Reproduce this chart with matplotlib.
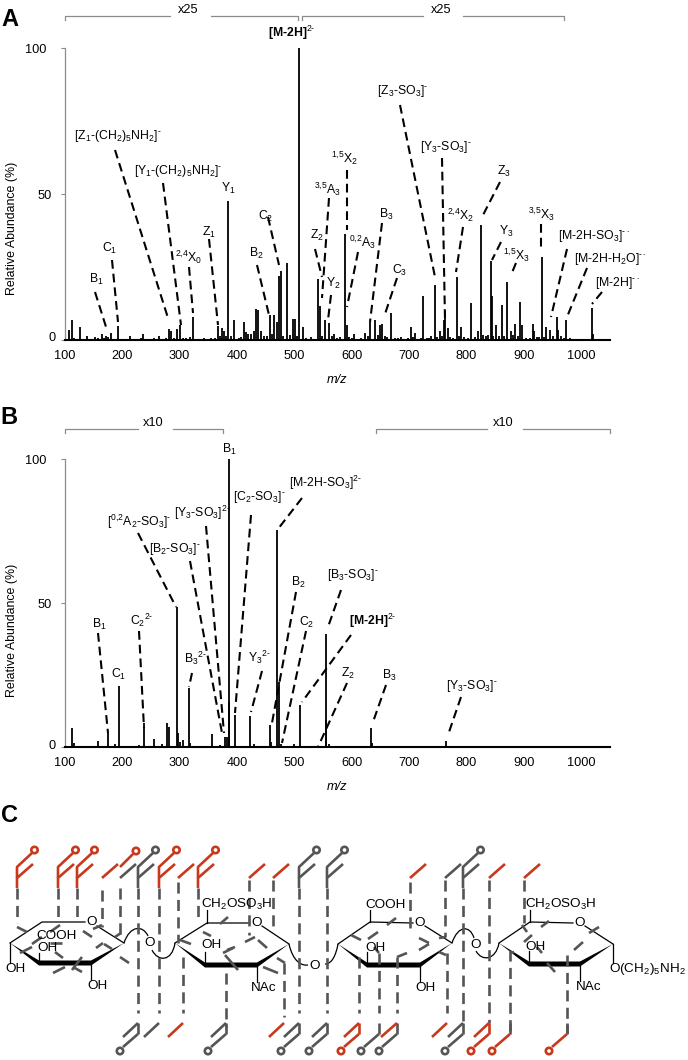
import matplotlib
matplotlib.use("Agg")
import matplotlib.pyplot as plt
from matplotlib.path import Path
from matplotlib.patches import PathPatch, Polygon, Circle
from matplotlib.transforms import ScaledTranslation

plt.rcParams['font.family'] = ['Liberation Sans', 'DejaVu Sans']
plt.rcParams['mathtext.fontset'] = 'custom'
plt.rcParams['mathtext.rm'] = 'Liberation Sans'
plt.rcParams['mathtext.it'] = 'Liberation Sans:italic'
plt.rcParams['mathtext.bf'] = 'Liberation Sans:bold'
plt.rcParams['mathtext.default'] = 'regular'

# ---------------- Spectrum A ----------------
mz_a = [107, 112, 127, 138, 152, 165, 172, 180, 192, 213, 237, 255, 265, 281, 285, 295, 300, 324,
        342, 355, 367, 374, 378, 385, 395, 412, 416, 420, 429, 433, 437, 442, 457, 465, 469, 473,
        476, 487, 498, 501, 509, 515, 529, 542, 545, 553, 560, 570, 580, 588, 592, 604, 623, 632,
        640, 650, 652, 668, 686, 703, 711, 725, 739, 745, 753, 760, 763, 767, 783, 791, 808, 820,
        825, 834, 842, 844, 851, 861, 871, 877, 885, 893, 896, 915, 918, 931, 938, 946, 957, 960,
        974, 990, 1018, 1021]
int_a = [3.5, 7, 4.6, 1.5, 1, 2, 1.5, 2.5, 4.8, 1.5, 2, 0.8, 1.5, 3.7, 3, 3.7, 5, 7.8,
         0.7, 0.8, 4.7, 4.2, 3, 47.5, 6.7, 6.2, 2.7, 2, 3, 10.5, 10.3, 3, 8.5, 8.5, 6, 22,
         23.5, 26.5, 7.3, 7.3, 100, 4.5, 1, 21, 11.5, 7, 5.7, 2, 1, 36.5, 5, 2, 2.5, 6,
         7, 5, 5.5, 9.4, 1, 4.5, 2.3, 15, 1.5, 19, 3, 7, 10, 4, 21.7, 4.5, 12.6, 3,
         39.4, 1.2, 27, 15, 5, 12, 20, 3, 5.6, 13, 5, 5.5, 3, 28.5, 4.5, 3.5, 8, 3.5,
         7, 0.4, 11, 2]
# low level peaks between the main ones
mz_a_low = [103, 116, 121, 133, 145, 158, 169, 176, 186, 198, 205, 219, 226, 233, 241, 248, 259, 271,
            276, 290, 306, 312, 318, 330, 336, 349, 361, 371, 381, 390, 404, 408, 425, 447, 452, 461,
            481, 492, 505, 520, 535, 549, 565, 575, 596, 600, 610, 616, 628, 645, 658, 662, 675, 681,
            693, 698, 707, 717, 721, 731, 735, 749, 757, 772, 777, 787, 796, 802, 814, 829, 838, 847,
            856, 866, 881, 889, 904, 910, 922, 926, 935, 950, 965, 969, 980, 1000, 1010, 1028, 1040]
int_a_low = [0.5, 0.6, 0.4, 0.5, 0.4, 0.6, 0.8, 1, 0.5, 0.3, 0.4, 0.5, 0.3, 0.7, 0.5, 0.3, 0.4, 0.5,
             0.6, 0.7, 0.8, 0.6, 1, 0.5, 0.4, 0.3, 0.6, 1.2, 1.5, 1.3, 0.7, 0.9, 2, 1.5, 1.4, 2,
             1.3, 1.7, 1.5, 0.6, 0.5, 1.2, 1.4, 0.8, 1, 0.7, 0.4, 0.6, 1.2, 1.6, 1.3, 0.9, 0.6, 0.7,
             0.5, 0.6, 0.9, 0.5, 0.6, 0.7, 0.8, 1, 1.4, 1.1, 0.8, 1.2, 0.9, 0.7, 1, 1.6, 1.8, 1.3,
             1.5, 1.4, 1.7, 1.2, 0.8, 0.7, 1, 0.9, 1.1, 1.3, 1.2, 0.8, 0.6, 0.3, 0.3, 0.2, 0.2]

# ---------------- Spectrum B ----------------
mz_b = [113, 117, 138, 158, 175, 188, 194, 217, 229, 238, 256, 269, 278, 282, 295, 298, 301, 306,
        316, 319, 357, 371, 380, 383, 385.5, 387, 397, 422, 430, 458, 460, 470, 473, 477, 500, 510,
        555, 556, 560, 633.5, 636, 682, 764, 842, 922]
int_b = [6.6, 1.5, 0.5, 2.3, 4.9, 1, 21.3, 0.5, 0.8, 8.3, 2.8, 1, 8.5, 7.2, 48.8, 5, 2, 2.5,
         20.5, 1.5, 4.6, 0.7, 3.5, 3.5, 100, 15.8, 11.2, 10.9, 1, 7.7, 2, 75.4, 22.8, 1, 1, 14.7,
         39.2, 9.5, 1, 6.6, 1.5, 0.3, 2.3, 0.3, 0.3]

y_ticks = [0, 50, 100]
x_ticks = [100, 200, 300, 400, 500, 600, 700, 800, 900, 1000]

# ---------------- Peak labels, positions in picture pixels ----------------
labels_a = [r'[Z$_1$-(CH$_2$)$_5$NH$_2$]$^{\text{-}}$', r'[Y$_1$-(CH$_2$)$_5$NH$_2$]$^{\text{-}}$', r'Y$_1$', r'C$_2$', r'Z$_2$',
            r'$^{\text{3,5}}$A$_3$', r'Y$_2$', r'B$_2$', r'Z$_1$', r'$^{\text{2,4}}$X$_0$', r'C$_1$', r'B$_1$',
            r'$^{\text{1,5}}$X$_2$', r'[Z$_3$-SO$_3$]$^{\text{-}}$', r'[Y$_3$-SO$_3$]$^{\text{-}}$', r'Z$_3$', r'$^{\text{2,4}}$X$_2$', r'B$_3$',
            r'$^{\text{0,2}}$A$_3$', r'C$_3$', r'Y$_3$', r'$^{\text{1,5}}$X$_3$', r'$^{\text{3,5}}$X$_3$',
            r'[M-2H-SO$_3$]$^{\text{-}\bullet}$', r'[M-2H-H$_2$O]$^{\text{-}\bullet}$', r'[M-2H]$^{\text{-}\bullet}$']
label_pos_a = [(118, 136), (178, 171), (228, 188), (266, 216), (317, 235), (327, 189), (333, 283), (256, 253),
               (209, 232), (189, 257), (110, 248), (96, 279), (345, 158), (403, 91), (446, 147), (504, 171),
               (461, 215), (386, 214), (362, 242), (400, 270), (506, 231), (516, 255), (541, 214),
               (594, 236), (610, 259), (617, 283)]
leaders_a = [(115, 150, 168, 318), (163, 183, 181, 325), (268, 217, 279, 265), (315, 249, 322, 277),
             (329, 198, 322, 298), (331, 295, 328, 320), (257, 265, 269, 315), (209, 239, 218, 325),
             (189, 267, 193, 313), (112, 260, 118, 322), (95, 292, 107, 330), (347, 170, 347, 230),
             (400, 105, 435, 277), (442, 158, 445, 320), (500, 182, 482, 217), (463, 227, 456, 272),
             (382, 223, 370, 322), (358, 252, 347, 307), (397, 278, 384, 317), (501, 242, 492, 260),
             (516, 263, 511, 275), (541, 224, 541, 248), (567, 249, 551, 317), (587, 268, 567, 317),
             (602, 292, 592, 304)]

labels_b = [r'B$_1$', r'[M-2H-SO$_3$]$^{\text{2-}}$', r'[C$_2$-SO$_3$]$^{\text{-}}$', r'[Y$_3$-SO$_3$]$^{\text{2-}}$',
            r'[$^{\text{0,2}}$A$_2$-SO$_3$]$^{\text{-}}$', r'[B$_2$-SO$_3$]$^{\text{-}}$', r'B$_2$', r'[B$_3$-SO$_3$]$^{\text{-}}$', r'C$_2$',
            r'B$_1$', r'C$_2$$^{\text{2-}}$', r'C$_1$', r'B$_3$$^{\text{2-}}$', r'Y$_3$$^{\text{2-}}$', r'Z$_2$', r'B$_3$',
            r'[Y$_3$-SO$_3$]$^{\text{-}}$']
label_pos_b = [(229, 449), (326, 483), (259, 497), (202, 513), (139, 522), (175, 549), (298, 582), (353, 575),
               (307, 622), (99, 624), (142, 620), (119, 674), (195, 658), (259, 657), (348, 673), (389, 675),
               (472, 686)]
leaders_b = [(302, 498, 278, 529), (251, 515, 235, 713), (206, 526, 224, 733), (138, 533, 176, 607),
             (190, 561, 222, 733), (296, 592, 272, 723), (341, 590, 328, 627), (306, 631, 282, 743),
             (351, 635, 302, 702), (98, 633, 108, 733), (139, 631, 144, 728), (192, 673, 189, 687),
             (262, 671, 251, 712), (347, 683, 318, 747), (386, 685, 373, 722), (461, 697, 448, 735)]

# scale brackets: x0, gap start, gap end, x1, height, text
brackets = [(65, 170, 211, 297.5, 16, 'x25'), (302, 423, 463, 564, 16, 'x25'),
            (65, 138, 173, 222.7, 429, 'x10'), (376, 487, 523, 610, 429, 'x10')]

# ---------------- Panel C, glycan structure, picture pixels ----------------
rings = [[(10, 943), (42, 922), (85, 922), (97, 926), (124, 943), (91, 963), (39, 963)],
         [(175, 943), (207, 923), (250, 923), (262, 926), (289, 944), (257, 965), (205, 965)],
         [(338, 944), (370, 922), (413, 923), (425, 926), (452, 943), (420, 965), (367, 965)],
         [(499, 943), (530, 922), (573, 923), (585, 926), (613, 944), (580, 964), (529, 964)]]
ring_o = [(92, 922), (257, 923), (420, 923), (580, 923)]
links = [[(124, 943), (130, 925), (143, 925), (148, 936)], [(152, 950), (158, 962), (172, 962), (175, 943)],
         [(289, 944), (293, 962), (302, 966), (308, 965)], [(325, 964), (332, 964), (336, 955), (338, 944)],
         [(452, 943), (458, 925), (470, 925), (474, 938)], [(476, 951), (482, 962), (496, 960), (499, 943)]]
link_o = [(150, 943), (315, 966), (476, 945)]
bonds = [(10, 943, 10, 963), (91, 963, 91, 980), (39, 963, 39, 953), (207, 923, 207, 910), (205, 965, 205, 952),
         (257, 965, 257, 982), (370, 922, 370, 910), (367, 965, 367, 952), (420, 965, 420, 982),
         (530, 922, 530, 910), (529, 964, 529, 951), (580, 964, 580, 981), (613, 944, 613, 963)]
chem_text = [(15, 969, 'OH'), (57, 936, 'COOH'), (47, 948, 'OH'), (97, 986, 'OH'),
             (237, 904, r'CH$_2$OSO$_3$H'), (212, 945, 'OH'), (264, 988, 'NAc'),
             (386, 905, 'COOH'), (375, 948, 'OH'), (425, 988, 'OH'),
             (561, 904, r'CH$_2$OSO$_3$H'), (536, 947, 'OH'), (589, 987, 'NAc'),
             (647, 969, r'O(CH$_2$)$_5$NH$_2$')]

top_x = [17, 58, 77, 102, 120, 138, 159, 178, 198, 249, 273, 299, 327, 410, 445, 463, 489, 524]
top_kind = ['D', 'D', 'D', 'S', 'SA', 'D', 'D', 'S', 'D', 'S', 'S', 'D', 'D', 'S', 'S', 'D', 'S', 'S']
top_col = ['r', 'r', 'r', 'r', 'g', 'g', 'r', 'r', 'r', 'r', 'r', 'g', 'g', 'r', 'g', 'g', 'r', 'r']
bot_x = [138, 159, 183, 226, 284, 299, 327, 359, 379, 397, 447, 463, 489, 510, 567]
bot_kind = ['D', 'S', 'S', 'D', 'S', 'D', 'D', 'D', 'H', 'HS', 'S', 'D', 'D', 'H', 'H']
bot_col = ['g', 'g', 'r', 'g', 'r', 'g', 'g', 'r', 'g', 'g', 'r', 'g', 'r', 'r', 'r']
dash_cols = [(17, 888, 923), (58, 888, 922), (77, 888, 922), (102, 890, 927), (120, 888, 935), (138, 888, 1013),
             (159, 888, 1013), (178, 882, 943), (183, 957, 1013), (198, 888, 922), (226, 973, 1027), (249, 880, 935),
             (273, 880, 930), (284, 963, 1017), (299, 888, 1013), (327, 888, 1013), (359, 957, 1013), (379, 953, 1013),
             (397, 957, 1013), (410, 882, 930), (445, 880, 937), (447, 953, 1013), (463, 888, 1023), (489, 880, 1023),
             (524, 880, 923), (510, 950, 1033), (567, 955, 1033)]
cuts = [(17, 927, 27, 932), (50, 932, 60, 925), (83, 931, 92, 937), (93, 929, 102, 925), (115, 937, 121, 933),
        (32, 944, 42, 937), (50, 943, 62, 943), (96, 948, 103, 943), (104, 944, 112, 949), (55, 952, 63, 958),
        (72, 970, 82, 957), (53, 973, 65, 967), (73, 967, 82, 972), (120, 957, 129, 963), (20, 953, 32, 947),
        (220, 924, 228, 917), (203, 932, 211, 936), (180, 940, 191, 944), (245, 942, 255, 937), (258, 940, 267, 948),
        (227, 950, 235, 947), (223, 953, 233, 948), (225, 955, 238, 970), (263, 967, 278, 973), (277, 958, 285, 963),
        (387, 925, 396, 918), (351, 935, 361, 940), (368, 939, 378, 932), (419, 938, 429, 943), (419, 950, 429, 944),
        (397, 957, 407, 953), (439, 938, 446, 937), (439, 952, 446, 955), (374, 947, 379, 953),
        (541, 927, 549, 921), (522, 925, 527, 932), (524, 942, 532, 935), (537, 947, 542, 953), (574, 950, 583, 942),
        (589, 933, 599, 927), (547, 963, 555, 972), (510, 953, 514, 952)]

RED = '#c8381c'
GRAY = '#555555'
BRACKET = '#8c8c8c'
W, H = 688, 1060
FS = 9.2


def px_axes(fig, left, top, right, bottom):
    return fig.add_axes([left / W, 1 - bottom / H, (right - left) / W, (bottom - top) / H])


def spectrum(ax, mz, inten, mz_low=None, int_low=None):
    ax.vlines(mz, 0, inten, color='black', lw=1.3)
    if mz_low is not None:
        ax.vlines(mz_low, 0, int_low, color='black', lw=1.3)
    ax.set_xlim(100, 1050)
    ax.set_ylim(0, 100)
    ax.set_xticks(x_ticks)
    ax.set_yticks(y_ticks)
    ax.tick_params(axis='x', length=0, pad=7, labelsize=FS)
    ax.tick_params(axis='y', length=3, color=BRACKET, pad=10, labelsize=FS)
    # the 0 and 50 labels sit a little closer to the axis than 100
    for lab, shift in zip(ax.get_yticklabels(), [9, 5, 0]):
        lab.set_transform(lab.get_transform() + ScaledTranslation(shift / 100, 3 / 100 if shift == 9 else 0, fig.dpi_scale_trans))
    for side in ['top', 'right']:
        ax.spines[side].set_visible(False)
    ax.spines['left'].set_color(BRACKET)
    ax.spines['left'].set_linewidth(0.9)
    ax.spines['bottom'].set_linewidth(1.5)
    ax.patch.set_alpha(0)


fig = plt.figure(figsize=(W / 100, H / 100), dpi=100, facecolor='white')
ax_a = px_axes(fig, 64.7, 48.3, 610, 340)
ax_b = px_axes(fig, 64.7, 459, 610, 747.3)
spectrum(ax_a, mz_a, int_a, mz_a_low, int_a_low)
spectrum(ax_b, mz_b, int_b)

# overlay in picture pixels for labels, leaders and panel C
ov = fig.add_axes([0, 0, 1, 1])
ov.set_xlim(0, W)
ov.set_ylim(H, 0)
ov.axis('off')
ov.patch.set_alpha(0)

# ---------------- Labels and leaders ----------------
for text, (x, y) in zip(labels_a + labels_b, label_pos_a + label_pos_b):
    ov.text(x, y, text, ha='center', va='center', fontsize=FS - 0.4)
for x0, y0, x1, y1 in leaders_a + leaders_b:
    ov.plot([x0, x1], [y0, y1], color='black', lw=1.5, ls=(0, (4.2, 2.4)))
ov.text(292, 33, r'[M-2H]$^{\text{2-}}$', ha='center', va='center', fontsize=FS - 0.4, fontweight='bold')
ov.text(373, 621, r'[M-2H]$^{\text{2-}}$', ha='center', va='center', fontsize=FS - 0.4, fontweight='bold')

for x0, g0, g1, x1, y, text in brackets:
    ov.plot([x0, x0, g0], [y + 4, y, y], color=BRACKET, lw=0.9)
    ov.plot([g1, x1, x1], [y, y, y + 4], color=BRACKET, lw=0.9)
    ov.text((g0 + g1) / 2 - 2, y - 6, text, ha='center', va='center', fontsize=FS)

ov.text(12, 228, 'Relative Abundance (%)', rotation=90, ha='center', va='center', fontsize=FS - 0.3)
ov.text(12, 630, 'Relative Abundance (%)', rotation=90, ha='center', va='center', fontsize=FS - 0.3)
ov.text(337, 380, 'm/z', style='italic', ha='center', va='center', fontsize=FS)
ov.text(337, 787, 'm/z', style='italic', ha='center', va='center', fontsize=FS)
for x, y, letter in [(10, 20, 'A'), (9, 418, 'B'), (9, 815, 'C')]:
    ov.text(x, y, letter, ha='center', va='center', fontsize=17, fontweight='bold')

# ---------------- Panel C ----------------
for pts in rings:
    left, tl, o0, o1, right, br, bl = pts
    ov.plot([left[0], tl[0], o0[0]], [left[1], tl[1], o0[1]], color='black', lw=0.9)
    ov.plot([o1[0], right[0]], [o1[1], right[1]], color='black', lw=0.9)
    ov.add_patch(Polygon([left, (bl[0], bl[1] - 2.5), (br[0], br[1] - 2.5), right, (br[0], br[1] + 2.5), (bl[0], bl[1] + 2.5)],
                         closed=True, color='black', lw=0))
for x, y in ring_o + link_o:
    ov.text(x, y, 'O', ha='center', va='center', fontsize=9.7)
for pts in links:
    ov.add_patch(PathPatch(Path(pts, [Path.MOVETO, Path.CURVE4, Path.CURVE4, Path.CURVE4]),
                           fc='none', ec='black', lw=0.9))
for x0, y0, x1, y1 in bonds:
    ov.plot([x0, x1], [y0, y1], color='black', lw=0.9)
for x, y, text in chem_text:
    ov.text(x, y, text, ha='center', va='center', fontsize=9.7)

frag_lw = 1.9
for x, y0, y1 in dash_cols:
    ov.plot([x, x], [y0, y1], color=GRAY, lw=frag_lw, ls=(0, (4.2, 2.4)))
for x0, y0, x1, y1 in cuts:
    ov.plot([x0, x1], [y0, y1], color=GRAY, lw=frag_lw, solid_capstyle='butt')


def top_mark(x, kind, col):
    c = RED if col == 'r' else GRAY
    ov.plot([x + 16, x, x], [864, 878, 888 if kind == 'D' else 878], color=c, lw=frag_lw, solid_capstyle='butt')
    if kind == 'D':
        ov.plot([x, x, x + 15], [878, 867, 853], color=c, lw=frag_lw, solid_capstyle='butt')
        ov.add_patch(Circle((x + 17.5, 850), 3.2, fc='white', ec=c, lw=frag_lw, zorder=3))
    if kind == 'SA':
        ov.plot([x, x + 13], [867, 854], color=RED, lw=frag_lw, solid_capstyle='butt')
        ov.add_patch(Circle((x + 16, 851), 3.2, fc='white', ec=RED, lw=frag_lw, zorder=3))


def bottom_mark(x, kind, col):
    c = RED if col == 'r' else GRAY
    if kind in ('D', 'S'):
        ov.plot([x - 15, x], [1037, 1023], color=c, lw=frag_lw, solid_capstyle='butt')
    if kind in ('D', 'H', 'HS'):
        ov.plot([x, x], [1023, 1034], color=c if kind == 'D' else GRAY, lw=frag_lw, solid_capstyle='butt')
        ov.plot([x, x - 15], [1034, 1047], color=c, lw=frag_lw, solid_capstyle='butt')
        ov.add_patch(Circle((x - 18, 1051), 3.2, fc='white', ec=c, lw=frag_lw, zorder=3))
    if kind == 'HS':
        ov.plot([x - 16, x], [1037, 1023], color=RED, lw=frag_lw, solid_capstyle='butt')


for x, kind, col in zip(top_x, top_kind, top_col):
    top_mark(x, kind, col)
for x, kind, col in zip(bot_x, bot_kind, bot_col):
    bottom_mark(x, kind, col)

fig.savefig('out.png', dpi=100)
